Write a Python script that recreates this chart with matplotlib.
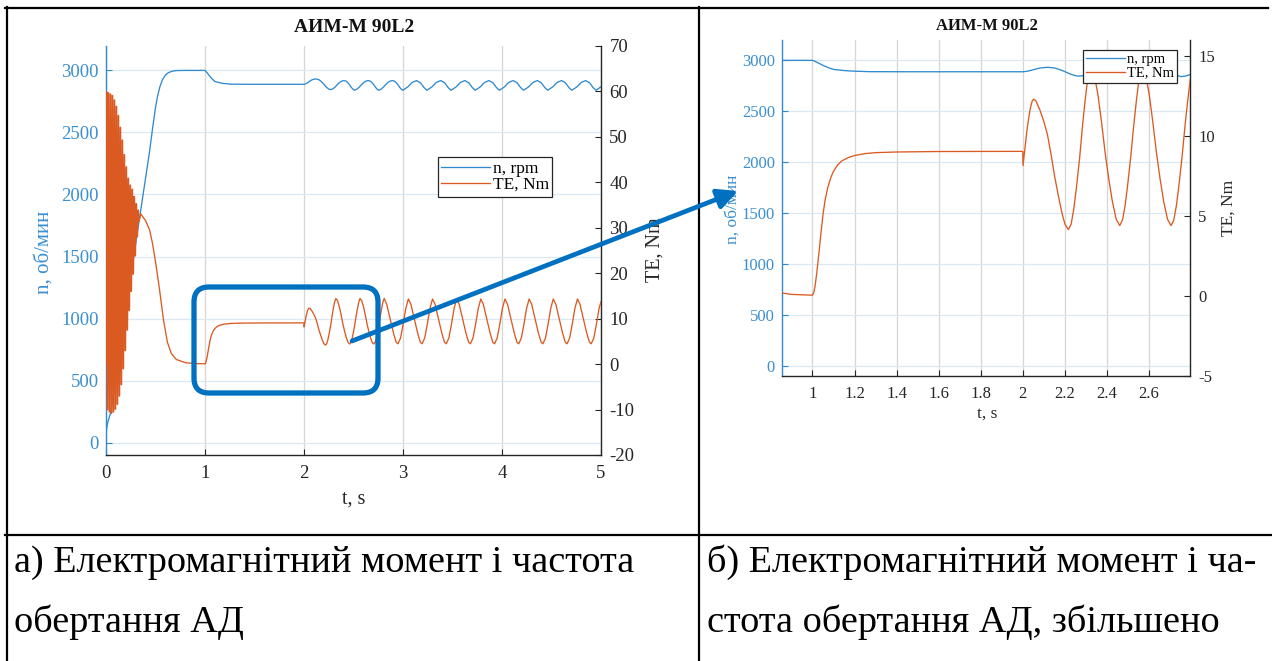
import matplotlib
matplotlib.use("Agg")
import matplotlib.pyplot as plt
from matplotlib.patches import FancyBboxPatch, FancyArrowPatch
from matplotlib.lines import Line2D
from matplotlib.transforms import IdentityTransform

plt.rcParams["font.family"] = ["Liberation Serif", "DejaVu Serif"]

# ---------------------------------------------------------------- data
title = "АИМ-М 90L2"
label_t = "t, s"
label_n = "n, об/мин"
label_te = "TE, Nm"
legend_labels = ["n, rpm", "TE, Nm"]
caption_a = ["а) Електромагнітний момент і частота", "обертання АД"]
caption_b = ["б) Електромагнітний момент і ча-", "стота обертання АД, збільшено"]

# rotor speed, rpm
n_time = [
    0.000, 0.005, 0.020, 0.047, 0.130, 0.233, 0.335, 0.436, 0.470, 0.500,
    0.520, 0.545, 0.570, 0.600, 0.630, 0.670, 0.720, 0.800, 1.000, 1.012,
    1.030, 1.047, 1.073, 1.100, 1.150, 1.186, 1.270, 1.500, 2.000, 2.020,
    2.038, 2.060, 2.082, 2.117, 2.151, 2.175, 2.195, 2.213, 2.230, 2.250,
    2.264, 2.290, 2.314, 2.337, 2.359, 2.382, 2.404, 2.424, 2.444, 2.462,
    2.479, 2.495, 2.509, 2.534, 2.559, 2.582, 2.604, 2.626, 2.649, 2.669,
    2.689, 2.707, 2.724, 2.740, 2.753, 2.778, 2.803, 2.826, 2.848, 2.871,
    2.893, 2.913, 2.933, 2.951, 2.968, 2.984, 2.997, 3.047, 3.092, 3.137,
    3.177, 3.212, 3.241, 3.291, 3.336, 3.381, 3.421, 3.456, 3.485, 3.535,
    3.580, 3.625, 3.665, 3.700, 3.729, 3.779, 3.824, 3.869, 3.909, 3.944,
    3.973, 4.023, 4.068, 4.113, 4.153, 4.188, 4.217, 4.267, 4.312, 4.357,
    4.397, 4.432, 4.461, 4.511, 4.556, 4.601, 4.641, 4.676, 4.705, 4.755,
    4.800, 4.845, 4.885, 4.920, 4.949, 5.000,
]
n_rpm = [
    0, 110, 170, 240, 700, 1250, 1790, 2324, 2530, 2700,
    2790, 2870, 2925, 2962, 2982, 2994, 2999, 3000, 3000, 2990,
    2972, 2954, 2930, 2911, 2900, 2895, 2889, 2888, 2888, 2893,
    2901, 2914, 2925, 2932, 2925, 2910, 2894, 2877, 2862, 2850,
    2845, 2850, 2866, 2886, 2903, 2914, 2918, 2914, 2900, 2882,
    2862, 2848, 2840, 2848, 2866, 2886, 2903, 2914, 2918, 2914,
    2900, 2882, 2862, 2848, 2840, 2848, 2866, 2886, 2903, 2914,
    2918, 2914, 2900, 2882, 2862, 2848, 2840, 2866, 2903, 2918,
    2900, 2862, 2840, 2866, 2903, 2918, 2900, 2862, 2840, 2866,
    2903, 2918, 2900, 2862, 2840, 2866, 2903, 2918, 2900, 2862,
    2840, 2866, 2903, 2918, 2900, 2862, 2840, 2866, 2903, 2918,
    2900, 2862, 2840, 2866, 2903, 2918, 2900, 2862, 2840, 2866,
    2903, 2918, 2900, 2862, 2840, 2868,
]

# electromagnetic torque, N*m : direct-on-line start (50 Hz swing) ...
te_start_time = [
    0.000, 0.005, 0.015, 0.025, 0.035, 0.045, 0.055, 0.065, 0.075, 0.085,
    0.095, 0.105, 0.115, 0.125, 0.135, 0.145, 0.155, 0.165, 0.175, 0.185,
    0.195, 0.205, 0.215, 0.225, 0.235, 0.245, 0.255, 0.265, 0.275, 0.285,
    0.295, 0.305, 0.315, 0.325, 0.335,
]
te_start = [
    0.0, 59.8, -10.0, 59.6, -10.5, 59.3, -10.8, 59.0, -10.5, 58.0,
    -9.9, 56.6, -8.8, 54.6, -7.0, 52.0, -4.5, 49.2, -1.0, 46.0,
    3.0, 43.3, 7.5, 40.8, 11.8, 39.3, 16.0, 38.4, 19.8, 36.8,
    23.8, 35.2, 28.0, 33.8, 31.5,
]
# ... then acceleration, load step at 1 s and pulsating load from 2 s
te_time = [
    0.335, 0.352, 0.400, 0.440, 0.470, 0.500, 0.540, 0.580, 0.620, 0.660,
    0.710, 0.800, 0.900, 1.000, 1.006, 1.012, 1.020, 1.030, 1.040, 1.050,
    1.060, 1.073, 1.087, 1.100, 1.120, 1.140, 1.170, 1.200, 1.250, 1.300,
    1.400, 1.600, 2.000, 2.001, 2.010, 2.021, 2.035, 2.045, 2.052, 2.062,
    2.082, 2.100, 2.117, 2.135, 2.151, 2.170, 2.186, 2.200, 2.217, 2.230,
    2.242, 2.256, 2.270, 2.283, 2.296, 2.309, 2.322, 2.339, 2.357, 2.374,
    2.392, 2.409, 2.426, 2.444, 2.461, 2.474, 2.487, 2.500, 2.514, 2.527,
    2.540, 2.553, 2.566, 2.583, 2.601, 2.618, 2.636, 2.653, 2.670, 2.688,
    2.705, 2.718, 2.731, 2.744, 2.758, 2.771, 2.784, 2.797, 2.810, 2.836,
    2.871, 2.905, 2.931, 2.949, 2.975, 3.002, 3.028, 3.054, 3.080, 3.115,
    3.149, 3.175, 3.193, 3.219, 3.246, 3.272, 3.298, 3.324, 3.359, 3.393,
    3.419, 3.437, 3.463, 3.490, 3.516, 3.542, 3.568, 3.603, 3.637, 3.663,
    3.681, 3.707, 3.734, 3.760, 3.786, 3.812, 3.847, 3.881, 3.907, 3.925,
    3.951, 3.978, 4.004, 4.030, 4.056, 4.091, 4.125, 4.151, 4.169, 4.195,
    4.222, 4.248, 4.274, 4.300, 4.335, 4.369, 4.395, 4.413, 4.439, 4.466,
    4.492, 4.518, 4.544, 4.579, 4.613, 4.639, 4.657, 4.683, 4.710, 4.736,
    4.762, 4.788, 4.823, 4.857, 4.883, 4.901, 4.927, 4.954, 4.980, 5.000,
]
te_nm = [
    31.5, 33.0, 31.5, 29.5, 26.5, 22.5, 16.5, 9.8, 4.8, 2.3,
    1.0, 0.3, 0.1, 0.05, 0.2, 0.6, 1.4, 2.6, 3.9, 5.1,
    6.0, 6.8, 7.4, 7.8, 8.2, 8.45, 8.65, 8.78, 8.9, 8.96,
    9.0, 9.03, 9.04, 8.15, 9.2, 10.5, 11.7, 12.2, 12.3, 12.2,
    11.6, 10.9, 10.1, 8.8, 7.5, 6.2, 5.2, 4.5, 4.15, 4.5,
    5.4, 6.9, 8.6, 10.5, 12.2, 13.6, 14.4, 13.9, 12.6, 10.9,
    8.9, 7.3, 5.9, 4.8, 4.4, 4.75, 5.7, 7.1, 8.8, 10.6,
    12.2, 13.6, 14.4, 13.9, 12.6, 10.9, 8.9, 7.3, 5.9, 4.8,
    4.4, 4.75, 5.7, 7.1, 8.8, 10.6, 12.2, 13.6, 14.4, 13.1,
    9.8, 6.7, 4.8, 4.45, 5.7, 8.8, 12.2, 14.3, 13.1, 9.8,
    6.7, 4.8, 4.45, 5.7, 8.8, 12.2, 14.3, 13.1, 9.8, 6.7,
    4.8, 4.45, 5.7, 8.8, 12.2, 14.3, 13.1, 9.8, 6.7, 4.8,
    4.45, 5.7, 8.8, 12.2, 14.3, 13.1, 9.8, 6.7, 4.8, 4.45,
    5.7, 8.8, 12.2, 14.3, 13.1, 9.8, 6.7, 4.8, 4.45, 5.7,
    8.8, 12.2, 14.3, 13.1, 9.8, 6.7, 4.8, 4.45, 5.7, 8.8,
    12.2, 14.3, 13.1, 9.8, 6.7, 4.8, 4.45, 5.7, 8.8, 12.2,
    14.3, 13.1, 9.8, 6.7, 4.8, 4.45, 5.7, 8.8, 12.2, 13.7,
]

# axis ticks
a_xticks = [0, 1, 2, 3, 4, 5]
a_xticklabels = ["0", "1", "2", "3", "4", "5"]
n_ticks = [0, 500, 1000, 1500, 2000, 2500, 3000]
n_ticklabels = ["0", "500", "1000", "1500", "2000", "2500", "3000"]
a_te_ticks = [-20, -10, 0, 10, 20, 30, 40, 50, 60, 70]
a_te_ticklabels = ["-20", "-10", "0", "10", "20", "30", "40", "50", "60", "70"]
b_xticks = [1, 1.2, 1.4, 1.6, 1.8, 2, 2.2, 2.4, 2.6]
b_xticklabels = ["1", "1.2", "1.4", "1.6", "1.8", "2", "2.2", "2.4", "2.6"]
b_te_ticks = [-5, 0, 5, 10, 15]
b_te_ticklabels = ["-5", "0", "5", "10", "15"]

# ---------------------------------------------------------------- style
W, H = 1272, 661
C_N = "#2f8ad0"
C_TE = "#db5a22"
C_NAXIS = "#3a8fd0"
C_DARK = "#262626"
C_GRID_V = "#d6d6d6"
C_GRID_H = "#d9e8f5"
C_MARK = "#0070C0"

fig = plt.figure(figsize=(W / 100, H / 100), dpi=100)
fig.patch.set_facecolor("white")


def px_box(left, top, right, bottom):
    return [left / W, 1 - bottom / H, (right - left) / W, (bottom - top) / H]


def fx(x):
    return x / W


def fy(y):
    return 1 - y / H


def make_chart(box, xlim, n_lim, te_lim, xticks, xticklabels, te_ticks,
               te_ticklabels, fs_tick, lw):
    ax = fig.add_axes(box)
    ax2 = ax.twinx()
    ax.set_zorder(1)
    ax2.set_zorder(2)
    ax.patch.set_visible(False)

    ln_n, = ax.plot(n_time, n_rpm, color=C_N, lw=lw, zorder=3)
    # the fast 50 Hz swing is drawn a little heavier so it reads as a band
    ax2.plot(te_start_time, te_start, color=C_TE, lw=1.3, zorder=3)
    ln_te, = ax2.plot(te_time, te_nm, color=C_TE, lw=lw, zorder=3)

    ax.set_xlim(*xlim)
    ax.set_ylim(*n_lim)
    ax2.set_ylim(*te_lim)

    ax.set_xticks(xticks)
    ax.set_xticklabels(xticklabels)
    ax.set_yticks(n_ticks)
    ax.set_yticklabels(n_ticklabels)
    ax2.set_yticks(te_ticks)
    ax2.set_yticklabels(te_ticklabels)

    for x in xticks:
        ax.axvline(x, color=C_GRID_V, lw=0.9, zorder=0)
    for y in n_ticks:
        ax.axhline(y, color=C_GRID_H, lw=0.9, zorder=0)

    for s in ("top", "right"):
        ax.spines[s].set_visible(False)
    for s in ("top", "left", "bottom"):
        ax2.spines[s].set_visible(False)
    ax.spines["left"].set_color(C_N)
    ax.spines["bottom"].set_color(C_DARK)
    ax2.spines["right"].set_color(C_DARK)
    for sp in (ax.spines["left"], ax.spines["bottom"], ax2.spines["right"]):
        sp.set_linewidth(1.0)

    ax.tick_params(axis="x", direction="in", length=4, width=0.8,
                   colors=C_DARK, labelsize=fs_tick, pad=7)
    ax.tick_params(axis="y", direction="in", length=4, width=0.8,
                   colors=C_N, labelcolor=C_NAXIS, labelsize=fs_tick, pad=5)
    ax2.tick_params(axis="y", direction="in", length=4, width=0.8,
                    colors=C_DARK, labelsize=fs_tick, pad=6)
    return ax, ax2, ln_n, ln_te


# ---------------------------------------------------------------- chart a
ax_a, ax_a2, ln_n, ln_te = make_chart(
    px_box(106, 45.6, 601, 455), (0, 5), (-100, 3200), (-20, 70),
    a_xticks, a_xticklabels, a_te_ticks, a_te_ticklabels, 13.5, 0.95)

fig.text(fx(354), fy(28), title, ha="center", va="center",
         fontsize=14, fontweight="bold", color="#111111")
fig.text(fx(354), fy(499), label_t, ha="center", va="center", fontsize=14.5,
         color=C_DARK)
fig.text(fx(44.5), fy(252), label_n, ha="center", va="center", rotation=90,
         fontsize=15, color=C_NAXIS)
fig.text(fx(655), fy(250), label_te, ha="center", va="center", rotation=90,
         fontsize=14.5, color=C_DARK)

leg_a = ax_a2.legend([ln_n, ln_te], legend_labels, loc="upper left",
                     bbox_to_anchor=(fx(438), fy(157)),
                     bbox_transform=fig.transFigure, borderaxespad=0,
                     fancybox=False, framealpha=1, edgecolor=C_DARK,
                     fontsize=12.5, handlelength=2.8, handletextpad=0.15,
                     borderpad=0.2, labelspacing=0.02)
leg_a.get_frame().set_linewidth(0.9)

# ---------------------------------------------------------------- chart b
ax_b, ax_b2, ln_n_b, ln_te_b = make_chart(
    px_box(782, 40, 1190, 376), (0.855, 2.795), (-100, 3200), (-5, 16),
    b_xticks, b_xticklabels, b_te_ticks, b_te_ticklabels, 12, 0.95)

fig.text(fx(987), fy(26), title, ha="center", va="center",
         fontsize=12, fontweight="bold", color="#111111")
fig.text(fx(987), fy(414), label_t, ha="center", va="center", fontsize=12.5,
         color=C_DARK)
fig.text(fx(733), fy(209), label_n, ha="center", va="center", rotation=90,
         fontsize=12.5, color=C_NAXIS)
fig.text(fx(1229), fy(208), label_te, ha="center", va="center", rotation=90,
         fontsize=12.5, color=C_DARK)

leg_b = ax_b2.legend([ln_n_b, ln_te_b], legend_labels, loc="upper left",
                     bbox_to_anchor=(fx(1083), fy(50)),
                     bbox_transform=fig.transFigure, borderaxespad=0,
                     fancybox=False, framealpha=1, edgecolor=C_DARK,
                     fontsize=10.5, handlelength=2.7, handletextpad=0.15,
                     borderpad=0.2, labelspacing=0.02)
leg_b.get_frame().set_linewidth(0.9)

# ---------------------------------------------------------------- table frame
frame_kw = dict(color="black", lw=1.6, transform=fig.transFigure, zorder=5)
fig.add_artist(Line2D([fx(5), fx(1268)], [fy(7.5), fy(7.5)], **frame_kw))
fig.add_artist(Line2D([fx(6.5), fx(6.5)], [fy(7), fy(661)], **frame_kw))
fig.add_artist(Line2D([fx(698.5), fx(698.5)], [fy(7), fy(661)], **frame_kw))
fig.add_artist(Line2D([fx(5), fx(1272)], [fy(535), fy(535)], **frame_kw))

# ---------------------------------------------------------------- captions
cap_kw = dict(fontsize=27.5, color="black", ha="left", va="baseline")
fig.text(fx(14), fy(572), caption_a[0], **cap_kw)
fig.text(fx(14), fy(632), caption_a[1], **cap_kw)
fig.text(fx(707), fy(572), caption_b[0], **cap_kw)
fig.text(fx(707), fy(632), caption_b[1], **cap_kw)

# ---------------------------------------------------------------- zoom marker
frame = FancyBboxPatch((194, H - 393), 184, 106,
                       boxstyle="round,pad=0,rounding_size=15",
                       transform=IdentityTransform(), fill=False,
                       ec=C_MARK, lw=3.8, zorder=10)
fig.add_artist(frame)
arrow = FancyArrowPatch((352, H - 341), (738, H - 191),
                        transform=IdentityTransform(),
                        arrowstyle="-|>,head_length=0.6,head_width=0.3",
                        mutation_scale=20, color=C_MARK, lw=3.4,
                        shrinkA=0, shrinkB=0, zorder=11)
fig.add_artist(arrow)

fig.savefig("out.png", dpi=100, facecolor="white")
